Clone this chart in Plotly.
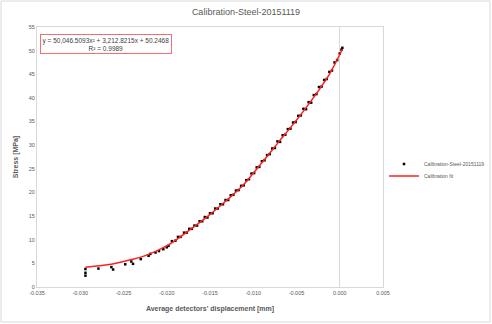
import plotly.graph_objects as go

# Measured calibration points: average detector displacement [mm] vs stress [MPa]
disp_mm = [
    -0.0294, -0.0294, -0.0294, -0.0279, -0.0264, -0.0262, -0.0248, -0.0241,
    -0.0239, -0.0230, -0.0221, -0.0219, -0.0213, -0.0209, -0.0204, -0.0200,
    -0.0198, -0.0194, -0.0190, -0.0187, -0.0184, -0.0180, -0.0177, -0.0174,
    -0.0171, -0.0168, -0.0165, -0.0162, -0.0159, -0.0156, -0.0153, -0.0150,
    -0.0147, -0.0144, -0.0141, -0.0138, -0.0135, -0.0132, -0.0129, -0.0126,
    -0.0123, -0.0120, -0.0117, -0.0114, -0.0111, -0.0108, -0.0105, -0.0102,
    -0.0099, -0.0096, -0.0093, -0.0090, -0.0087, -0.0084, -0.0081, -0.0078,
    -0.0075, -0.0072, -0.0069, -0.0066, -0.0063, -0.0060, -0.0057, -0.0054,
    -0.0051, -0.0048, -0.0045, -0.0042, -0.0039, -0.0036, -0.0033, -0.0030,
    -0.0027, -0.0024, -0.0021, -0.0018, -0.0015, -0.0012, -0.0009, -0.0006,
    -0.0003, 0.0000, 0.0002, 0.0003,
]
stress_mpa = [
    3.8, 3.0, 2.4, 3.9, 4.2, 3.7, 4.8, 5.4,
    4.9, 5.9, 6.6, 7.0, 7.3, 7.6, 8.0, 8.4,
    8.7, 9.7, 9.8, 10.6, 10.6, 11.5, 11.5, 12.3,
    12.3, 13.0, 13.0, 13.9, 13.9, 14.8, 14.7, 15.6,
    15.6, 16.6, 16.6, 17.5, 17.5, 18.4, 18.4, 19.4,
    19.5, 20.4, 20.5, 21.4, 21.5, 22.6, 22.8, 24.0,
    24.1, 25.3, 25.4, 26.6, 26.8, 27.9, 28.1, 29.3,
    29.4, 30.8, 30.7, 32.1, 32.2, 33.4, 33.5, 34.8,
    34.9, 36.2, 36.3, 37.7, 37.6, 39.1, 39.0, 40.6,
    40.8, 42.3, 42.4, 43.8, 44.0, 45.5, 45.8, 47.5,
    48.0, 49.4, 50.2, 50.6,
]

# Calibration fit curve
fit_disp_mm = [-0.0294, -0.0264, -0.0241, -0.0224, -0.0198, -0.0171, -0.0151,
               -0.0131, -0.0113, -0.0090, -0.0070, -0.0050, -0.0031, -0.0012,
               0.0003]
fit_stress_mpa = [4.2, 4.8, 5.8, 6.7, 8.9, 12.4, 15.2,
                  18.3, 21.3, 26.3, 30.8, 35.3, 39.9, 45.0,
                  50.3]

x_ticks = [-0.035, -0.030, -0.025, -0.020, -0.015, -0.010, -0.005, 0.000, 0.005]
x_tick_text = ["-0.035", "-0.030", "-0.025", "-0.020", "-0.015", "-0.010",
               "-0.005", "0.000", "0.005"]
y_ticks = [0, 5, 10, 15, 20, 25, 30, 35, 40, 45, 50, 55]

chart_title = "Calibration-Steel-20151119"
fit_label = "y = 50,046.5093x\u00b2 + 3,212.8215x + 50.2468<br>R\u00b2 = 0.9989"

W, H = 492, 324
ML, MR, MT, MB = 37, 109, 27, 37
PW, PH = W - ML - MR, H - MT - MB

def px_x(p):
    return (p - ML) / PW

def px_y(p):
    return (H - MB - p) / PH

GRID = "#d9d9d9"
TXT = "#595959"
FONT = "Liberation Sans, Arial, sans-serif"

fig = go.Figure()
fig.add_trace(go.Scatter(
    x=disp_mm, y=stress_mpa, mode="markers",
    name="Calibration-Steel-20151119", legend="legend",
    marker=dict(symbol="square", size=2.5, color="#000000", line=dict(width=0)),
))
fig.add_trace(go.Scatter(
    x=fit_disp_mm, y=fit_stress_mpa, mode="lines",
    name="Calibration fit", legend="legend2",
    line=dict(color="#ff2020", width=1.5, shape="spline", smoothing=0.8),
))

# legends placed in figure (container) coordinates so they don't shift margins
legend_style = dict(xref="container", yref="container",
                    xanchor="left", yanchor="middle",
                    font=dict(size=5, color=TXT), bgcolor="rgba(0,0,0,0)",
                    itemwidth=30, borderwidth=0)

fig.update_layout(
    width=W, height=H,
    margin=dict(l=ML, r=MR, t=MT, b=MB, autoexpand=False),
    paper_bgcolor="white", plot_bgcolor="white",
    font=dict(family=FONT, size=6, color=TXT),
    title=dict(text=chart_title, x=0.5, xref="container", xanchor="center",
               y=1 - 12 / H, yanchor="middle", font=dict(size=9, color=TXT)),
    showlegend=True,
    legend=dict(x=384 / W, y=1 - 164 / H, **legend_style),
    legend2=dict(x=384 / W, y=1 - 176 / H, **legend_style),
    xaxis=dict(range=[-0.035, 0.005], tickvals=x_ticks, ticktext=x_tick_text,
               showgrid=False, zeroline=True, zerolinecolor=GRID, zerolinewidth=1,
               showline=True, mirror=True, linecolor=GRID, linewidth=1,
               ticks="", tickfont=dict(size=5.5, color=TXT),
               title=dict(text="<b>Average detectors' displacement [mm]</b>",
                          font=dict(size=7, color=TXT), standoff=11)),
    yaxis=dict(range=[0, 55], tickvals=y_ticks,
               showgrid=False, zeroline=False,
               showline=True, mirror=True, linecolor=GRID, linewidth=1,
               ticks="", tickfont=dict(size=5.5, color=TXT),
               title=dict(text="<b>Stress [MPa]</b>",
                          font=dict(size=7, color=TXT), standoff=9)),
)

# equation / R² label of the fit
fig.add_annotation(
    xref="paper", yref="paper", x=px_x(40), y=px_y(34),
    xanchor="left", yanchor="top", showarrow=False, align="center",
    text=fit_label, font=dict(size=6.5, color="#404040"),
    bordercolor="#f07070", borderwidth=1, borderpad=1.5, bgcolor="white",
)

# chart area border
fig.add_shape(type="rect", xref="paper", yref="paper",
              x0=px_x(1), x1=px_x(W - 2), y0=px_y(H - 2), y1=px_y(1),
              line=dict(color=GRID, width=1), layer="below")

fig.write_html("out.html")
